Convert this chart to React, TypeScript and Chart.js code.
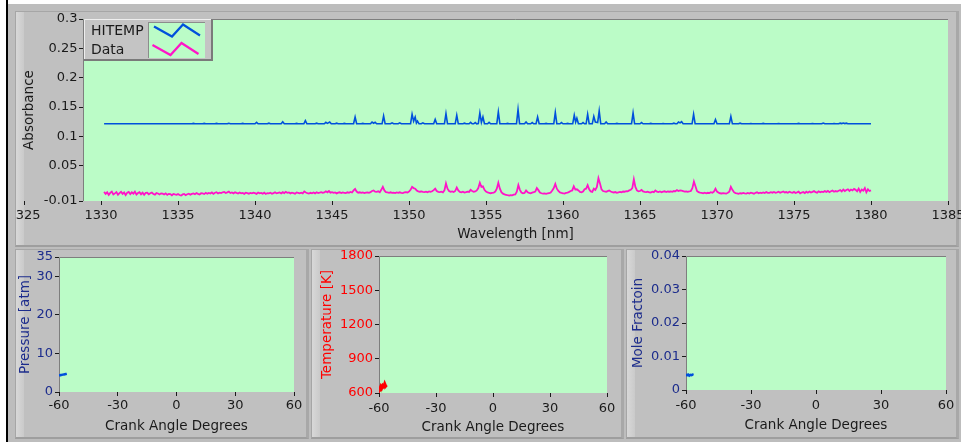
import React, { useEffect, useRef } from "react";
import { Chart, registerables } from "chart.js";

Chart.register(...registerables);

// ---- look ----
const FONT_FAMILY = "'DejaVu Sans', Verdana, sans-serif";
const PLOT_GREEN = "#bbfcc7";
const PANEL_GRAY = "#c0c0c0";
const BLUE = "#0050dc";
const MAGENTA = "#ff14c8";
const RED = "#ff0000";
const NAVY = "#1c2c8c";
const INK = "#1a1a1a";

// ---- absorbance spectrum ----
const WAVELENGTH_TICKS = [1325, 1330, 1335, 1340, 1345, 1350, 1355, 1360, 1365, 1370, 1375, 1380, 1385];
const WAVELENGTH_VISIBLE_MIN = 1328.83;
const WAVELENGTH_MAX = 1385;
const ABSORBANCE_TICKS = [-0.01, 0.05, 0.1, 0.15, 0.2, 0.25, 0.3];

// HITEMP simulation: [wavelength nm, absorbance]
const hitempSpectrum: [number, number][] = [
  [1330.2, 0.1215],
  [1335.9, 0.1215], [1336.0, 0.1222], [1336.1, 0.1215],
  [1336.6, 0.1215], [1336.7, 0.1222], [1336.8, 0.1215],
  [1337.4, 0.1215], [1337.5, 0.1222], [1337.6, 0.1215],
  [1338.2, 0.1215], [1338.3, 0.1224], [1338.4, 0.1215],
  [1339.1, 0.1215], [1339.2, 0.1222], [1339.3, 0.1215],
  [1340.0, 0.1215], [1340.1, 0.124], [1340.2, 0.1215],
  [1340.8, 0.1215], [1340.9, 0.1225], [1341.0, 0.1215],
  [1341.7, 0.1215], [1341.8, 0.125], [1341.9, 0.1215],
  [1342.6, 0.1215], [1342.7, 0.1222], [1342.8, 0.1215],
  [1343.17, 0.1215], [1343.27, 0.127], [1343.37, 0.1215],
  [1343.9, 0.1215], [1344.0, 0.1225], [1344.1, 0.1215],
  [1344.5, 0.1215], [1344.6, 0.124], [1344.7, 0.1222], [1344.85, 0.1245], [1344.95, 0.1215],
  [1345.2, 0.1215], [1345.3, 0.1225], [1345.4, 0.1215],
  [1345.7, 0.1215], [1345.8, 0.1222], [1345.9, 0.1215],
  [1346.4, 0.1215], [1346.5, 0.133], [1346.6, 0.1215],
  [1346.9, 0.1215], [1347.0, 0.1222], [1347.1, 0.1215],
  [1347.5, 0.1215], [1347.6, 0.1245], [1347.7, 0.1225], [1347.8, 0.124], [1347.9, 0.1215],
  [1348.25, 0.1215], [1348.35, 0.1348], [1348.45, 0.1215],
  [1348.8, 0.1215], [1348.9, 0.123], [1349.0, 0.1215],
  [1349.3, 0.1215], [1349.4, 0.123], [1349.5, 0.1215],
  [1350.1, 0.1215], [1350.2, 0.1378], [1350.3, 0.126], [1350.4, 0.133], [1350.48, 0.1228], [1350.55, 0.126], [1350.65, 0.1215],
  [1350.8, 0.1215], [1350.9, 0.123], [1351.0, 0.1215],
  [1351.6, 0.1215], [1351.7, 0.129], [1351.8, 0.1215],
  [1352.3, 0.1215], [1352.4, 0.139], [1352.5, 0.1215],
  [1353.0, 0.1215], [1353.1, 0.136], [1353.2, 0.1215],
  [1353.5, 0.1215], [1353.6, 0.1225], [1353.7, 0.1215],
  [1353.9, 0.1215], [1354.0, 0.124], [1354.1, 0.1215],
  [1354.2, 0.1215], [1354.3, 0.1235], [1354.4, 0.1215],
  [1354.5, 0.1218], [1354.6, 0.14], [1354.7, 0.124], [1354.8, 0.133], [1354.9, 0.1215],
  [1355.1, 0.1215], [1355.2, 0.124], [1355.3, 0.1215],
  [1355.7, 0.1215], [1355.8, 0.1417], [1355.9, 0.1215],
  [1356.3, 0.1215], [1356.4, 0.1222], [1356.5, 0.1215],
  [1356.98, 0.1215], [1357.08, 0.1458], [1357.18, 0.1215],
  [1357.5, 0.1215], [1357.6, 0.1245], [1357.7, 0.1215],
  [1357.9, 0.1215], [1358.0, 0.1235], [1358.1, 0.1215],
  [1358.25, 0.1215], [1358.35, 0.133], [1358.45, 0.1215],
  [1358.8, 0.1215], [1358.9, 0.1222], [1359.0, 0.1215],
  [1359.4, 0.1215], [1359.5, 0.1407], [1359.6, 0.1215],
  [1359.8, 0.1215], [1359.9, 0.1235], [1360.0, 0.1215],
  [1360.2, 0.1215], [1360.3, 0.1222], [1360.4, 0.1215],
  [1360.63, 0.1215], [1360.73, 0.136], [1360.82, 0.1245], [1360.9, 0.131], [1361.0, 0.1215],
  [1361.2, 0.1215], [1361.3, 0.1235], [1361.4, 0.1215],
  [1361.5, 0.1215], [1361.6, 0.1378], [1361.7, 0.1215],
  [1361.9, 0.1215], [1362.0, 0.134], [1362.1, 0.1245], [1362.25, 0.1235], [1362.35, 0.1434], [1362.45, 0.1215],
  [1362.7, 0.1215], [1362.8, 0.1245], [1362.9, 0.1215],
  [1363.4, 0.1215], [1363.5, 0.1222], [1363.6, 0.1215],
  [1364.45, 0.1215], [1364.55, 0.14], [1364.65, 0.1215],
  [1365.0, 0.1215], [1365.1, 0.1235], [1365.2, 0.1215],
  [1365.6, 0.1215], [1365.7, 0.1222], [1365.8, 0.1215],
  [1366.4, 0.1215], [1366.5, 0.122], [1366.6, 0.1215],
  [1367.1, 0.1215], [1367.2, 0.1225], [1367.3, 0.1215],
  [1367.4, 0.1215], [1367.5, 0.1245], [1367.6, 0.123], [1367.7, 0.125], [1367.8, 0.1215],
  [1368.38, 0.1215], [1368.48, 0.1378], [1368.58, 0.1215],
  [1369.8, 0.1215], [1369.9, 0.1287], [1370.0, 0.1215],
  [1370.8, 0.1215], [1370.9, 0.134], [1371.0, 0.1215],
  [1371.4, 0.1215], [1371.5, 0.1225], [1371.6, 0.1215],
  [1372.1, 0.1215], [1372.2, 0.122], [1372.3, 0.1215],
  [1372.9, 0.1215], [1373.0, 0.1222], [1373.1, 0.1215],
  [1373.9, 0.1215], [1374.0, 0.122], [1374.1, 0.1215],
  [1375.2, 0.1215], [1375.3, 0.1222], [1375.4, 0.1215],
  [1376.1, 0.1215], [1376.2, 0.122], [1376.3, 0.1215],
  [1376.8, 0.1215], [1376.9, 0.1228], [1377.0, 0.1215],
  [1377.5, 0.1215], [1377.6, 0.122], [1377.7, 0.1215],
  [1377.9, 0.1215], [1378.0, 0.1225], [1378.1, 0.1218], [1378.2, 0.1228], [1378.3, 0.1218], [1378.4, 0.1225], [1378.5, 0.1215],
  [1380.0, 0.1215],
];

// Measured absorbance, sampled every 0.1 nm from 1330.2 nm (values in 1e-4 units)
const MEASURED_START_NM = 1330.2;
const MEASURED_STEP_NM = 0.1;
const measuredAbs1e4 = [
  55, 20, 48, 5, 38, 60, 12, 30,
  52, 8, 35, 58, 22, 45, 2, 40, 55, 18,
  48, 25, 60, 10, 35, 50, 15, 42, 5, 38,
  40, 15, 32, 45, 20, 8, 35, 28, 12, 30,
  25, 10, 30, 5, 22, 18, -2, 20, 12, 5,
  18, 2, -8, 12, 20, 0, 15, 25, 8, 22,
  30, 15, 35, 22, 10, 32, 28, 18, 40, 25,
  38, 28, 45, 22, 40, 50, 30, 42, 35, 48,
  55, 38, 48, 60, 35, 45, 30, 50, 38, 28,
  45, 30, 38, 22, 42, 35, 25, 38, 30, 40,
  35, 22, 45, 30, 38, 25, 42, 20, 35, 30,
  40, 25, 35, 48, 30, 38, 45, 28, 50, 35,
  55, 40, 45, 30, 42, 35, 25, 45, 38, 30,
  42, 30, 62, 45, 35, 28, 40, 32, 45, 30,
  48, 35, 42, 50, 38, 45, 65, 48, 70, 42,
  50, 38, 45, 30, 42, 48, 35, 45, 40, 35,
  48, 40, 55, 45, 80, 105, 60, 42, 48, 38,
  45, 35, 42, 48, 40, 50, 70, 80, 60, 55,
  65, 50, 90, 140, 80, 50, 45, 40, 48, 38,
  42, 35, 45, 38, 48, 40, 35, 45, 50, 45,
  60, 90, 140, 120, 110, 80, 65, 58, 62, 55,
  52, 58, 50, 62, 55, 65, 85, 110, 70, 55,
  50, 58, 48, 80, 200, 110, 70, 55, 62, 52,
  70, 130, 80, 55, 48, 58, 45, 52, 60, 55,
  90, 70, 55, 62, 80, 120, 210, 140, 150, 90,
  60, 45, 40, 32, 38, 42, 60, 110, 210, 110,
  50, 25, 12, 5, -2, -8, 0, -5, 8, 12,
  60, 170, 90, 45, 32, 38, 80, 50, 38, 30,
  42, 50, 60, 120, 85, 45, 32, 25, 30, 22,
  28, 32, 45, 80, 120, 190, 110, 70, 45, 38,
  32, 25, 38, 42, 55, 70, 80, 150, 95, 100,
  80, 55, 48, 60, 100, 110, 170, 100, 62, 55,
  110, 90, 140, 290, 200, 100, 70, 62, 55, 68,
  80, 62, 50, 45, 52, 40, 48, 55, 50, 62,
  58, 68, 65, 80, 90, 120, 270, 140, 80, 65,
  70, 90, 62, 55, 50, 58, 48, 45, 58, 50,
  80, 60, 52, 62, 50, 58, 65, 52, 62, 58,
  62, 55, 70, 65, 85, 70, 80, 75, 68, 60,
  65, 55, 62, 70, 120, 230, 150, 70, 50, 42,
  38, 30, 42, 32, 40, 35, 50, 40, 60, 110,
  60, 42, 32, 28, 35, 30, 25, 40, 60, 140,
  90, 50, 35, 30, 22, 32, 28, 38, 30, 25,
  38, 28, 42, 35, 25, 40, 48, 32, 42, 35,
  45, 35, 52, 40, 38, 50, 42, 55, 40, 48,
  58, 42, 50, 62, 45, 52, 40, 58, 48, 40,
  55, 38, 48, 60, 30, 45, 52, 35, 58, 42,
  62, 45, 55, 68, 50, 42, 65, 48, 60, 52,
  68, 55, 72, 50, 65, 78, 58, 70, 62, 75,
  85, 62, 95, 70, 88, 100, 72, 95, 80, 105,
  90, 65, 110, 55, 95, 75, 120, 50, 100, 70,
  80,
];

// ---- crank-angle traces ----
const CRANK_TICKS = [-60, -30, 0, 30, 60];
const PRESSURE_TICKS = [0, 10, 20, 30, 35];
const TEMPERATURE_TICKS = [600, 900, 1200, 1500, 1800];
const MOLE_TICKS = [0, 0.01, 0.02, 0.03, 0.04];

const pressureDeg = [-60, -59.5, -59, -58.5, -58, -57.5, -57, -56.5, -56];
const pressureAtm = [4.35, 4.38, 4.42, 4.45, 4.5, 4.55, 4.6, 4.65, 4.7];

const temperatureDeg = [-60, -59.5, -59, -58.5, -58, -57.5, -57, -56.5, -56];
const temperatureK = [650, 640, 660, 645, 665, 655, 680, 660, 670];

const moleDeg = [-60, -59.5, -59, -58.5, -58, -57.5, -57, -56.5];
const moleFraction = [0.0047, 0.0044, 0.0046, 0.0043, 0.0045, 0.0044, 0.0046, 0.0045];

// ---- helpers ----
const fmtTick = (v: number | string) => String(Math.round(Number(v) * 10000) / 10000);

const plotFrame = {
  id: "plotFrame",
  beforeDraw(chart: any) {
    const { ctx, chartArea: a } = chart;
    ctx.save();
    ctx.fillStyle = PLOT_GREEN;
    ctx.fillRect(a.left, a.top, a.right - a.left, a.bottom - a.top);
    ctx.strokeStyle = "#7e7e7e";
    ctx.lineWidth = 1;
    ctx.beginPath();
    ctx.moveTo(Math.round(a.left) + 0.5, a.bottom);
    ctx.lineTo(Math.round(a.left) + 0.5, Math.round(a.top) + 0.5);
    ctx.lineTo(a.right, Math.round(a.top) + 0.5);
    ctx.stroke();
    ctx.restore();
  },
};

// Boxed legend in the plot corner, each entry with a zig-zag glyph
const zigzagLegend = {
  id: "zigzagLegend",
  afterDraw(chart: any) {
    const { ctx, chartArea: a } = chart;
    const sets = chart.data.datasets;
    const x0 = a.left + 1;
    const y0 = a.top;
    const w = 129;
    const h = 42;
    const swX = x0 + 65;
    const swW = 56;
    ctx.save();
    ctx.fillStyle = "#c4c4c4";
    ctx.fillRect(x0, y0, w, h);
    ctx.strokeStyle = "#eeeeee";
    ctx.lineWidth = 1;
    ctx.beginPath();
    ctx.moveTo(x0 + 0.5, y0 + h - 1);
    ctx.lineTo(x0 + 0.5, y0 + 0.5);
    ctx.lineTo(x0 + w - 1, y0 + 0.5);
    ctx.stroke();
    ctx.strokeStyle = "#7a7a7a";
    ctx.lineWidth = 2;
    ctx.beginPath();
    ctx.moveTo(x0 + w - 1, y0);
    ctx.lineTo(x0 + w - 1, y0 + h - 1);
    ctx.lineTo(x0, y0 + h - 1);
    ctx.stroke();
    // swatch well
    ctx.fillStyle = PLOT_GREEN;
    ctx.fillRect(swX, y0 + 3, swW, h - 6);
    ctx.strokeStyle = "#8c8c8c";
    ctx.lineWidth = 1;
    ctx.beginPath();
    ctx.moveTo(swX - 0.5, y0 + 3);
    ctx.lineTo(swX - 0.5, y0 + h - 3);
    ctx.moveTo(swX, y0 + 3.5);
    ctx.lineTo(swX + swW, y0 + 3.5);
    ctx.stroke();
    ctx.font = `14px ${FONT_FAMILY}`;
    ctx.textBaseline = "middle";
    ctx.textAlign = "left";
    sets.forEach((ds: any, i: number) => {
      const cy = y0 + 12.5 + i * 18.5;
      ctx.fillStyle = INK;
      ctx.fillText(ds.label, x0 + 7, cy);
      ctx.strokeStyle = ds.borderColor;
      ctx.lineWidth = 2.2;
      ctx.lineJoin = "miter";
      const gx = swX + 5 - i * 1.5;
      ctx.beginPath();
      ctx.moveTo(gx, cy - 5);
      ctx.lineTo(gx + 18, cy + 5);
      ctx.lineTo(gx + 29, cy - 7);
      ctx.lineTo(gx + 46, cy + 4);
      ctx.stroke();
    });
    ctx.restore();
  },
};

type AxisSpec = {
  min: number;
  max: number;
  ticks: number[];
  color: string;
  title: string;
  titleColor: string;
  size: number;
  titlePad: number;
  tickPad: number;
};

function xAxis(s: AxisSpec) {
  return {
    type: "linear",
    position: "bottom",
    min: s.min,
    max: s.max,
    afterBuildTicks: (sc: any) => {
      sc.ticks = s.ticks.map((value) => ({ value }));
    },
    afterFit: (sc: any) => {
      sc.height = s.size;
      sc.paddingLeft = 0;
      sc.paddingRight = 0;
    },
    grid: { drawOnChartArea: false, drawTicks: true, tickLength: 4, tickColor: INK, tickWidth: 1 },
    border: { display: false },
    ticks: {
      autoSkip: false,
      maxRotation: 0,
      minRotation: 0,
      padding: s.tickPad,
      color: s.color,
      font: { family: FONT_FAMILY, size: 13 },
      callback: (v: any) => fmtTick(v),
    },
    title: {
      display: true,
      text: s.title,
      color: s.titleColor,
      font: { family: FONT_FAMILY, size: 13.5 },
      padding: { top: 0, bottom: s.titlePad },
    },
  };
}

function yAxis(s: AxisSpec) {
  return {
    type: "linear",
    position: "left",
    min: s.min,
    max: s.max,
    afterBuildTicks: (sc: any) => {
      sc.ticks = s.ticks.map((value) => ({ value }));
    },
    afterFit: (sc: any) => {
      sc.width = s.size;
      sc.paddingTop = 0;
      sc.paddingBottom = 0;
    },
    grid: { drawOnChartArea: false, drawTicks: true, tickLength: 4, tickColor: INK, tickWidth: 1 },
    border: { display: false },
    ticks: {
      autoSkip: false,
      padding: s.tickPad,
      color: s.color,
      font: { family: FONT_FAMILY, size: 13 },
      callback: (v: any) => fmtTick(v),
    },
    title: {
      display: true,
      text: s.title,
      color: s.titleColor,
      font: { family: FONT_FAMILY, size: 13.5 },
      padding: { top: s.titlePad, bottom: 0 },
    },
  };
}

function baseOptions(padTop: number, padRight: number, x: any, y: any) {
  return {
    responsive: false,
    animation: false,
    devicePixelRatio: 1,
    layout: { padding: { left: 0, top: padTop, right: padRight, bottom: 0 } },
    plugins: { legend: { display: false }, tooltip: { enabled: false } },
    elements: { point: { radius: 0 }, line: { tension: 0 } },
    scales: { x, y },
  };
}

function ChartCanvas(props: { left: number; top: number; width: number; height: number; build: () => any }) {
  const ref = useRef<HTMLCanvasElement>(null);
  useEffect(() => {
    const chart = new Chart(ref.current as HTMLCanvasElement, props.build());
    return () => chart.destroy();
  }, []);
  return (
    <canvas
      ref={ref}
      width={props.width}
      height={props.height}
      style={{ position: "absolute", left: props.left, top: props.top, width: props.width, height: props.height, display: "block" }}
    />
  );
}

function Panel(props: { left: number; top: number; width: number; height: number }) {
  return (
    <div
      style={{
        position: "absolute",
        left: props.left,
        top: props.top,
        width: props.width,
        height: props.height,
        boxSizing: "border-box",
        background: PANEL_GRAY,
        borderTop: "1px solid #a6a6a6",
        borderLeft: "1px solid #a6a6a6",
        borderBottom: "2px solid #9e9e9e",
        borderRight: "3px solid #a8a8a8",
      }}
    >
      <div
        style={{
          position: "absolute",
          left: 0,
          top: 0,
          bottom: 0,
          width: 8,
          background: "linear-gradient(to right, #d8d8d8, #cacaca)",
        }}
      />
    </div>
  );
}

// ---- chart builders ----
function buildSpectrum() {
  const measured = measuredAbs1e4.map((v, i) => ({
    x: Math.round((MEASURED_START_NM + i * MEASURED_STEP_NM) * 100) / 100,
    y: v / 10000,
  }));
  return {
    type: "line",
    data: {
      datasets: [
        {
          label: "HITEMP",
          data: hitempSpectrum.map(([x, y]) => ({ x, y })),
          borderColor: BLUE,
          borderWidth: 1.6,
          pointRadius: 0,
          fill: false,
        },
        {
          label: "Data",
          data: measured,
          borderColor: MAGENTA,
          borderWidth: 1.8,
          pointRadius: 0,
          fill: false,
        },
      ],
    },
    options: baseOptions(
      8,
      13,
      xAxis({
        min: WAVELENGTH_VISIBLE_MIN,
        max: WAVELENGTH_MAX,
        ticks: WAVELENGTH_TICKS,
        color: INK,
        title: "Wavelength [nm]",
        titleColor: INK,
        size: 45,
        titlePad: 3,
        tickPad: 2.5,
      }),
      yAxis({
        min: -0.01,
        max: 0.3,
        ticks: ABSORBANCE_TICKS,
        color: INK,
        title: "Absorbance",
        titleColor: INK,
        size: 68,
        titlePad: 6,
        tickPad: 1.5,
      })
    ),
    plugins: [plotFrame, zigzagLegend],
  };
}

function buildCrank(opts: {
  deg: number[];
  vals: number[];
  color: string;
  width: number;
  yMin: number;
  yMax: number;
  yTicks: number[];
  yColor: string;
  yTitle: string;
  ySize: number;
  yTitlePad: number;
  xSize: number;
  xTitlePad: number;
  xTickPad: number;
  padTop: number;
  padRight: number;
}) {
  return {
    type: "line",
    data: {
      datasets: [
        {
          label: opts.yTitle,
          data: opts.deg.map((x, i) => ({ x, y: opts.vals[i] })),
          borderColor: opts.color,
          borderWidth: opts.width,
          pointRadius: 0,
          fill: false,
        },
      ],
    },
    options: baseOptions(
      opts.padTop,
      opts.padRight,
      xAxis({
        min: -60,
        max: 60,
        ticks: CRANK_TICKS,
        color: INK,
        title: "Crank Angle Degrees",
        titleColor: INK,
        size: opts.xSize,
        titlePad: opts.xTitlePad,
        tickPad: opts.xTickPad,
      }),
      yAxis({
        min: opts.yMin,
        max: opts.yMax,
        ticks: opts.yTicks,
        color: opts.yColor,
        title: opts.yTitle,
        titleColor: opts.yColor,
        size: opts.ySize,
        titlePad: opts.yTitlePad,
        tickPad: 2,
      })
    ),
    plugins: [plotFrame],
  };
}

export default function App() {
  return (
    <div style={{ position: "fixed", left: 0, top: 0, width: 961, height: 447, background: "#ffffff", overflow: "hidden" }}>
      <div style={{ position: "absolute", left: 6, top: 0, width: 2, height: 442, background: "#000000" }} />
      <div style={{ position: "absolute", left: 8, top: 4, width: 953, height: 438, background: "#bdbdbd" }} />
      <Panel left={15} top={11} width={944} height={236} />
      <Panel left={15} top={249} width={294} height={190} />
      <Panel left={311} top={249} width={313} height={190} />
      <Panel left={626} top={249} width={333} height={190} />

      <ChartCanvas left={15} top={11} width={946} height={235} build={buildSpectrum} />
      <ChartCanvas
        left={16}
        top={249}
        width={291}
        height={188}
        build={() =>
          buildCrank({
            deg: pressureDeg,
            vals: pressureAtm,
            color: BLUE,
            width: 2.5,
            yMin: 0,
            yMax: 35,
            yTicks: PRESSURE_TICKS,
            yColor: NAVY,
            yTitle: "Pressure [atm]",
            ySize: 43,
            yTitlePad: 1,
            xSize: 45,
            xTitlePad: 2.4,
            xTickPad: 1.5,
            padTop: 8,
            padRight: 13,
          })
        }
      />
      <ChartCanvas
        left={312}
        top={249}
        width={310}
        height={188}
        build={() =>
          buildCrank({
            deg: temperatureDeg,
            vals: temperatureK,
            color: RED,
            width: 3,
            yMin: 600,
            yMax: 1800,
            yTicks: TEMPERATURE_TICKS,
            yColor: RED,
            yTitle: "Temperature [K]",
            ySize: 67,
            yTitlePad: 7,
            xSize: 44,
            xTitlePad: 1,
            xTickPad: 3.5,
            padTop: 7,
            padRight: 15,
          })
        }
      />
      <ChartCanvas
        left={626}
        top={249}
        width={331}
        height={188}
        build={() =>
          buildCrank({
            deg: moleDeg,
            vals: moleFraction,
            color: BLUE,
            width: 2.5,
            yMin: 0,
            yMax: 0.04,
            yTicks: MOLE_TICKS,
            yColor: NAVY,
            yTitle: "Mole Fractoin",
            ySize: 60,
            yTitlePad: 4.4,
            xSize: 47,
            xTitlePad: 3,
            xTickPad: 3.5,
            padTop: 7,
            padRight: 11,
          })
        }
      />
    </div>
  );
}
